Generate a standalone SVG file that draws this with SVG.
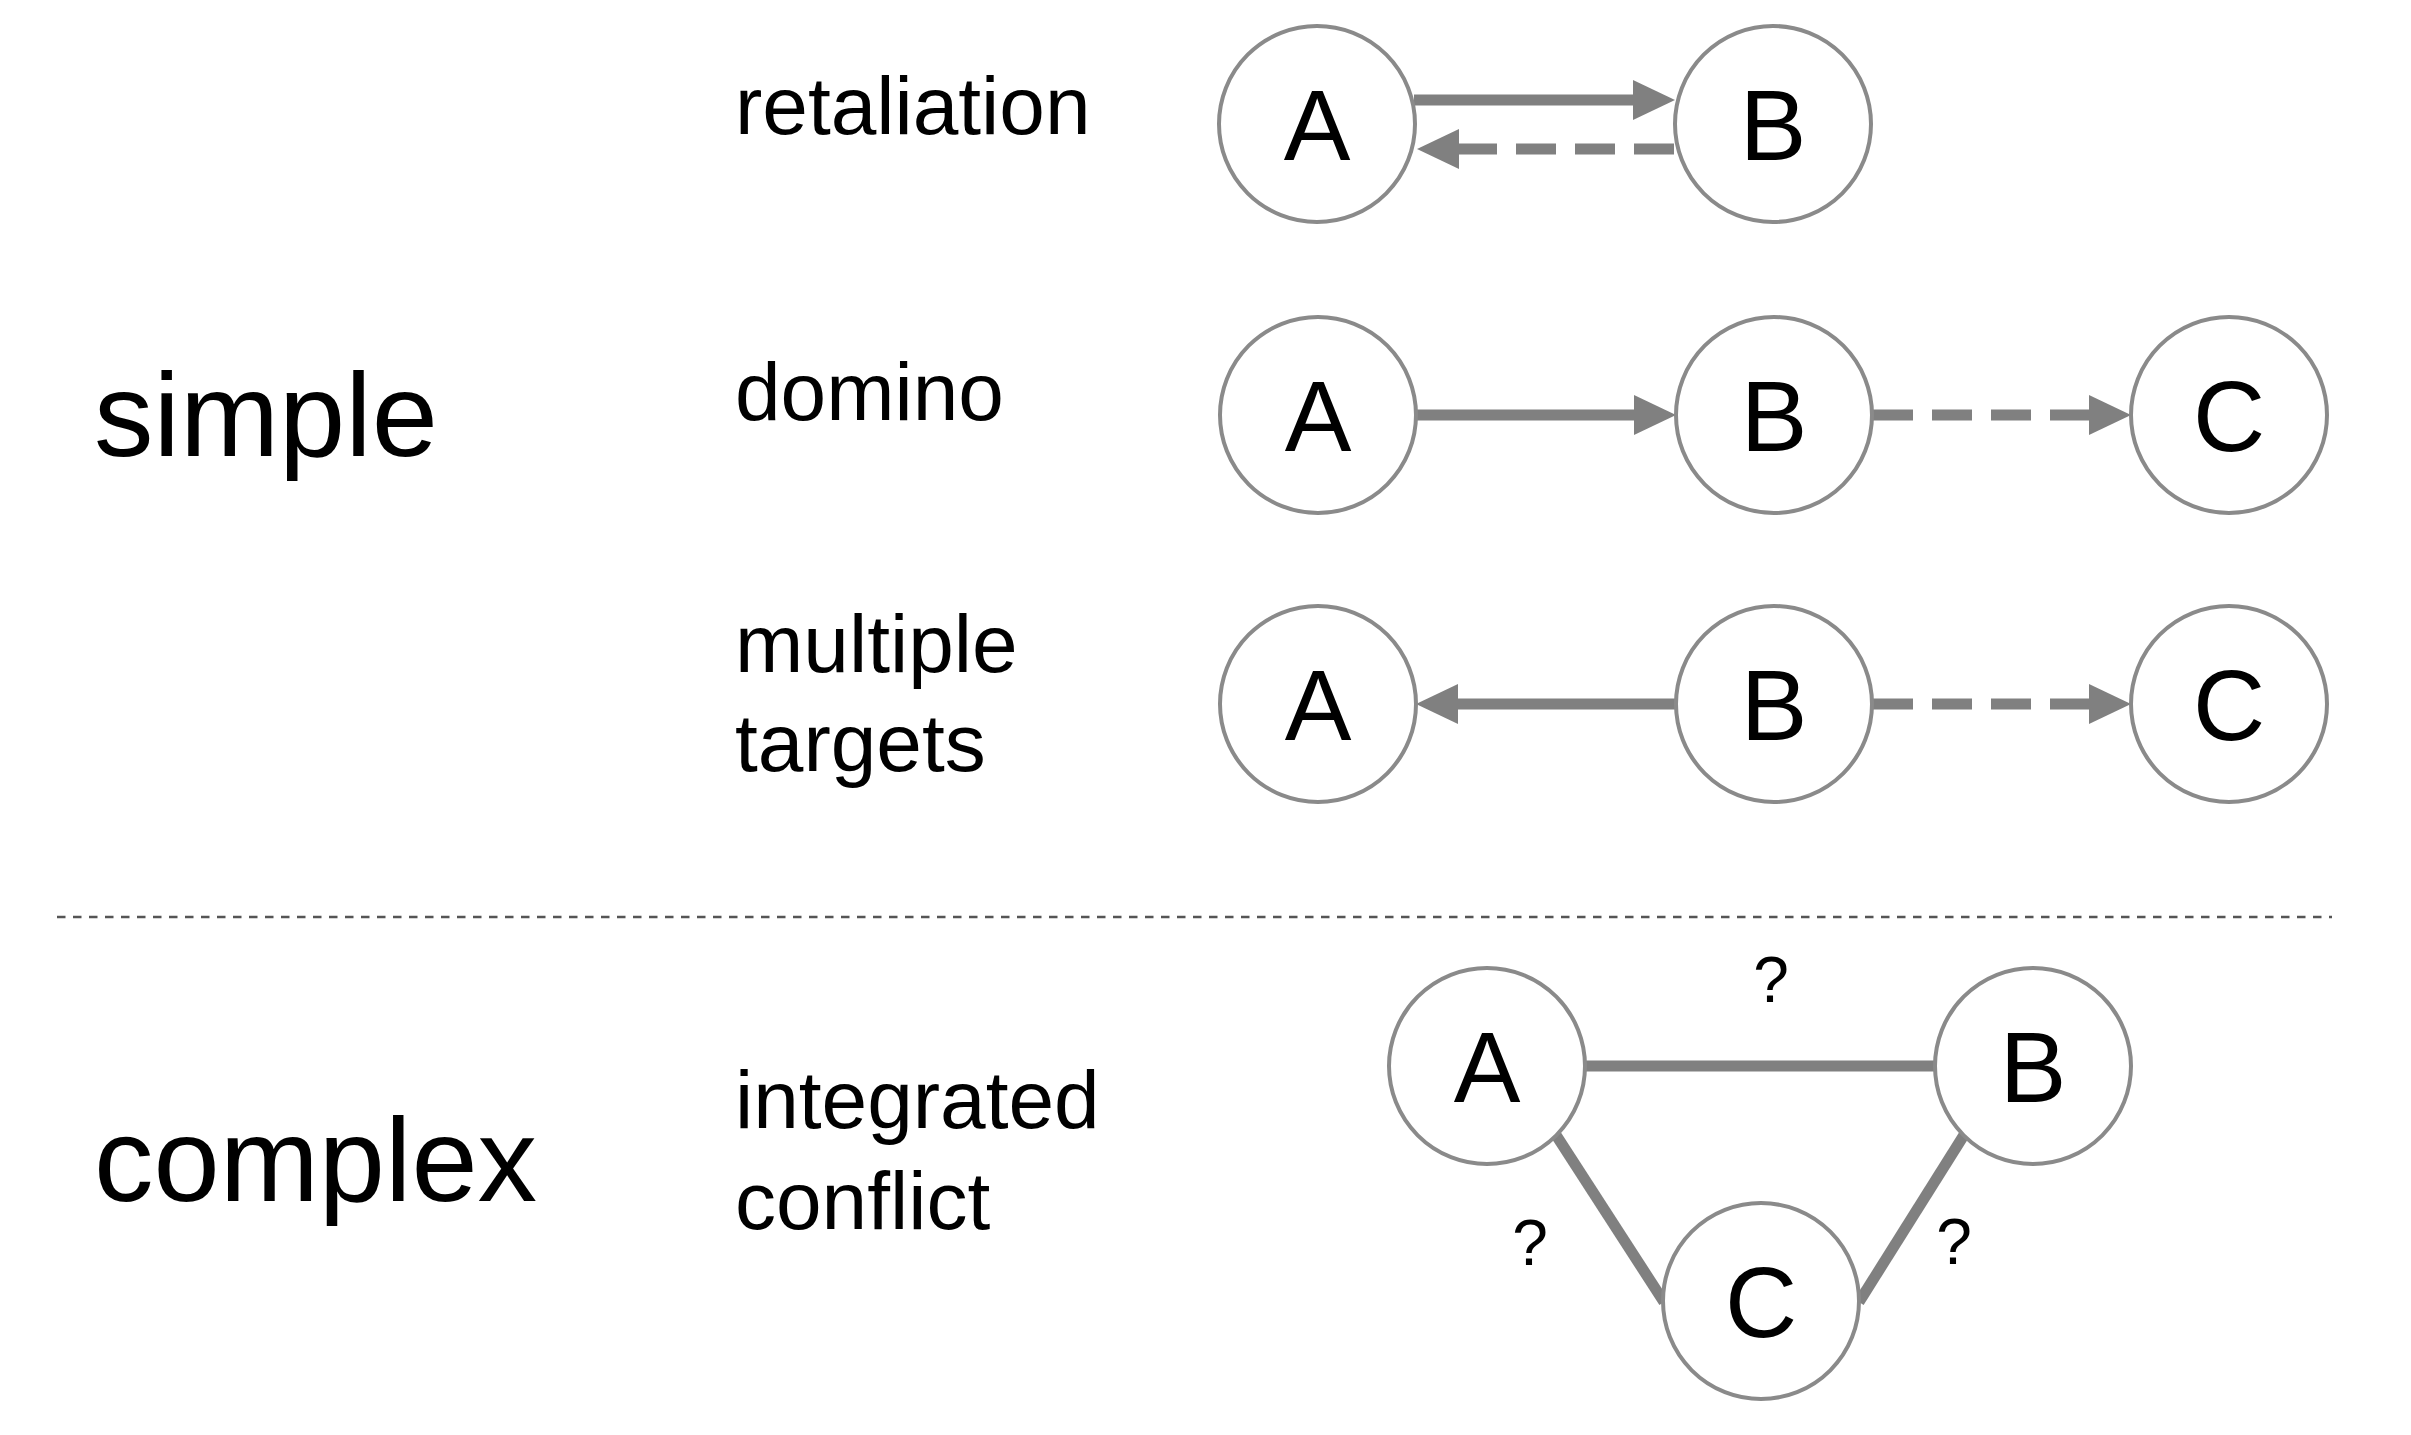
<svg xmlns="http://www.w3.org/2000/svg" width="2411" height="1435" viewBox="0 0 2411 1435">
<style>
.node circle{fill:#fff;stroke:#8a8a8a;stroke-width:4}
.node text{font-family:"Liberation Sans",Arial,sans-serif;font-size:100px;fill:#000;text-anchor:middle}
.lbl{font-family:"Liberation Sans",Arial,sans-serif;font-size:82px;fill:#000}
.big{font-family:"Liberation Sans",Arial,sans-serif;font-size:119px;fill:#000}
.q{font-family:"Liberation Sans",Arial,sans-serif;font-size:64px;fill:#000;text-anchor:middle}
.edge{stroke:#808080;stroke-width:11;fill:none}
.dash{stroke-dasharray:40 19}
.sep{stroke:#555;stroke-width:2.5;stroke-dasharray:8.5 7.5}
</style>
<defs>
<marker id="ah" markerUnits="userSpaceOnUse" markerWidth="42" markerHeight="42" refX="0" refY="20" orient="auto" viewBox="0 0 42 40">
<path d="M0,0 L42,20 L0,40 z" fill="#808080"/>
</marker>
</defs>
<rect width="2411" height="1435" fill="#fff"/>
<text class="big" x="94" y="456">simple</text>
<text class="big" x="94" y="1201">complex</text>
<text class="lbl" x="735" y="134">retaliation</text>
<text class="lbl" x="735" y="420">domino</text>
<text class="lbl" x="735" y="672">multiple</text>
<text class="lbl" x="735" y="771">targets</text>
<text class="lbl" x="735" y="1128">integrated</text>
<text class="lbl" x="735" y="1229">conflict</text>
<line class="sep" x1="57" y1="917" x2="2332" y2="917"/>
<g id="connectors">
<line class="edge" x1="1414" y1="100" x2="1633" y2="100" marker-end="url(#ah)"/>
<line class="edge dash" x1="1674" y1="149" x2="1459" y2="149" marker-end="url(#ah)"/>
<line class="edge" x1="1416" y1="415" x2="1634" y2="415" marker-end="url(#ah)"/>
<line class="edge dash" x1="1873" y1="415" x2="2089" y2="415" marker-end="url(#ah)"/>
<line class="edge" x1="1675" y1="704" x2="1458" y2="704" marker-end="url(#ah)"/>
<line class="edge dash" x1="1873" y1="704" x2="2089" y2="704" marker-end="url(#ah)"/>
<line class="edge" x1="1584" y1="1066" x2="1936" y2="1066"/>
<line class="edge" x1="1556" y1="1135" x2="1664" y2="1302"/>
<line class="edge" x1="1964" y1="1135" x2="1859" y2="1302"/>
</g>
<g id="r1A" class="node"><circle cx="1317" cy="124" r="98"/><text x="1317" y="160">A</text></g>
<g id="r1B" class="node"><circle cx="1773" cy="124" r="98"/><text x="1773" y="160">B</text></g>
<g id="r2A" class="node"><circle cx="1318" cy="415" r="98"/><text x="1318" y="451">A</text></g>
<g id="r2B" class="node"><circle cx="1774" cy="415" r="98"/><text x="1774" y="451">B</text></g>
<g id="r2C" class="node"><circle cx="2229" cy="415" r="98"/><text x="2229" y="451">C</text></g>
<g id="r3A" class="node"><circle cx="1318" cy="704" r="98"/><text x="1318" y="740">A</text></g>
<g id="r3B" class="node"><circle cx="1774" cy="704" r="98"/><text x="1774" y="740">B</text></g>
<g id="r3C" class="node"><circle cx="2229" cy="704" r="98"/><text x="2229" y="740">C</text></g>
<g id="cA" class="node"><circle cx="1487" cy="1066" r="98"/><text x="1487" y="1102">A</text></g>
<g id="cB" class="node"><circle cx="2033" cy="1066" r="98"/><text x="2033" y="1102">B</text></g>
<g id="cC" class="node"><circle cx="1761" cy="1301" r="98"/><text x="1761" y="1337">C</text></g>
<text class="q" x="1771" y="1002">?</text>
<text class="q" x="1530" y="1265">?</text>
<text class="q" x="1954" y="1264">?</text>
</svg>
